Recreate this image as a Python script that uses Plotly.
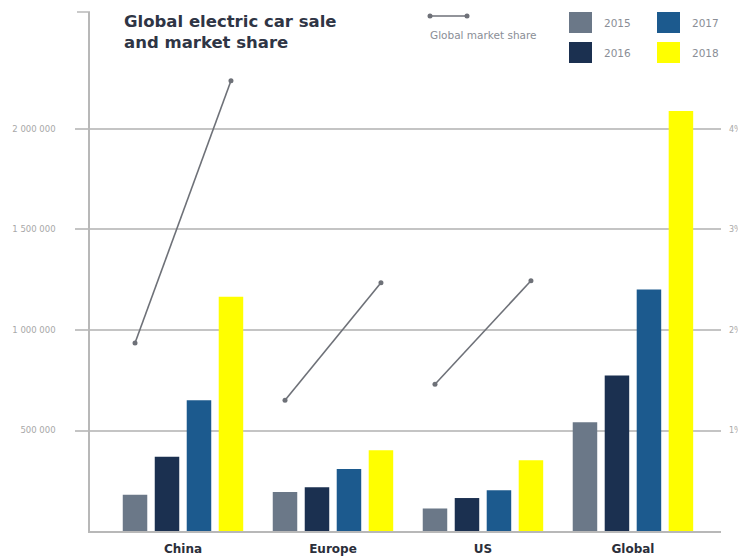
import plotly.graph_objects as go

# ---------------- data ----------------
regions = ["China", "Europe", "US", "Global"]
years = ["2015", "2016", "2017", "2018"]
sales_2015 = [180000, 194000, 112000, 541000]
sales_2016 = [370000, 218000, 164000, 774000]
sales_2017 = [650000, 308000, 203000, 1201000]
sales_2018 = [1165000, 402000, 352000, 2089000]
share_regions = ["China", "Europe", "US"]
share_start = [1.87, 1.30, 1.46]   # market share %, left end of segment
share_end = [4.48, 2.47, 2.49]     # market share %, right end of segment
left_ticks = [500000, 1000000, 1500000, 2000000]
left_tick_text = ["500 000", "1 000 000", "1 500 000", "2 000 000"]
right_ticks = [1, 2, 3, 4]
right_tick_text = ["1%", "2%", "3%", "4%"]

colors = ["#6b7888", "#1b3050", "#1c5a8e", "#ffff00"]
all_sales = [sales_2015, sales_2016, sales_2017, sales_2018]

# page body has an 8px margin; figure coordinates = page - 8
OFF = 8
W, H = 746 - OFF, 559 - OFF
L, R, T, B = 90 - OFF, 25, 12 - OFF, 28
PW, PH = W - L - R, H - T - B
BARGAP = 0.147
GROUPGAP = 0.234


def px(x):
    """page x pixel -> paper fraction"""
    return (x - OFF - L) / PW


def py(y):
    """page y pixel -> paper fraction"""
    return (H - B - (y - OFF)) / PH


fig = go.Figure()
xs = list(range(len(regions)))
for yr, vals, c in zip(years, all_sales, colors):
    fig.add_trace(go.Bar(x=xs, y=vals, name=yr, marker=dict(color=c, line=dict(width=0)),
                         showlegend=False))

slot = (1 - BARGAP) / 4
off = 1.5 * slot
for reg, s0, s1 in zip(share_regions, share_start, share_end):
    i = regions.index(reg)
    fig.add_trace(go.Scatter(x=[i - off, i + off], y=[s0, s1], yaxis="y2", mode="lines+markers",
                             line=dict(color="#6e7178", width=1.6),
                             marker=dict(color="#6e7178", size=5), showlegend=False))

grey = "#b8b8b8"
DJ = "DejaVu Sans, sans-serif"
fig.update_layout(
    width=W, height=H, margin=dict(l=L, r=R, t=T, b=B, autoexpand=False),
    paper_bgcolor="white", plot_bgcolor="white",
    barmode="group", bargap=BARGAP, bargroupgap=GROUPGAP,
    font=dict(family=DJ),
    xaxis=dict(range=[-0.62, 3.587], tickvals=xs, ticktext=regions, showgrid=False,
               zeroline=False, showline=True, linecolor=grey, linewidth=1.5, automargin=False,
               ticks="", ticklabelstandoff=6,
               tickfont=dict(family=DJ, size=12, color="#2b2f3a", weight="bold")),
    yaxis=dict(range=[0, 2582000], tickvals=left_ticks, ticktext=left_tick_text,
               showgrid=True, gridcolor="#c4c4c4", gridwidth=1.5, zeroline=False,
               showline=True, linecolor=grey, linewidth=1.5, automargin=False,
               ticks="outside", ticklen=13, tickcolor="#c4c4c4", tickwidth=1.5,
               ticklabelstandoff=18,
               tickfont=dict(family=DJ, size=8.5, color="#a8a8a8")),
    yaxis2=dict(range=[0, 5.164], overlaying="y", side="right", tickvals=right_ticks,
                ticktext=right_tick_text, showgrid=False, zeroline=False, showline=False,
                automargin=False, ticks="", ticklabelstandoff=7,
                tickfont=dict(family=DJ, size=8, color="#a8a8a8")),
)

shapes = [dict(type="line", xref="paper", yref="paper", x0=px(77), x1=0, y0=1, y1=1,
               line=dict(color=grey, width=1.5))]
annotations = [dict(xref="paper", yref="paper", x=px(122), y=py(10), xanchor="left", yanchor="top",
                    align="left", showarrow=False,
                    text="Global electric car sale<br>and market share",
                    font=dict(family=DJ, size=16.5, color="#2f3545", weight="bold"))]

# legend: market share line
shapes.append(dict(type="line", xref="paper", yref="paper", x0=px(430), x1=px(467),
                   y0=py(16), y1=py(16), line=dict(color="#6e7178", width=1.6)))
for cx in (430, 467):
    shapes.append(dict(type="circle", xref="paper", yref="paper", x0=px(cx - 2.5), x1=px(cx + 2.5),
                       y0=py(18.5), y1=py(13.5), fillcolor="#6e7178", line=dict(width=0)))
annotations.append(dict(xref="paper", yref="paper", x=px(428), y=py(35), xanchor="left",
                        yanchor="middle", showarrow=False, text="Global market share",
                        font=dict(family=DJ, size=10.5, color="#8a8e96")))

# legend: years
legend_pos = {"2015": (569, 12), "2016": (569, 42), "2017": (657, 12), "2018": (657, 42)}
for yr, c in zip(years, colors):
    x0, y0 = legend_pos[yr]
    shapes.append(dict(type="rect", xref="paper", yref="paper", x0=px(x0), x1=px(x0 + 23),
                       y0=py(y0 + 21), y1=py(y0), fillcolor=c, line=dict(width=0)))
    annotations.append(dict(xref="paper", yref="paper", x=px(x0 + 33), y=py(y0 + 11),
                            xanchor="left", yanchor="middle", showarrow=False, text=yr,
                            font=dict(family=DJ, size=10.5, color="#8a8e96")))

fig.update_layout(shapes=shapes, annotations=annotations)
fig.write_html("out.html")
